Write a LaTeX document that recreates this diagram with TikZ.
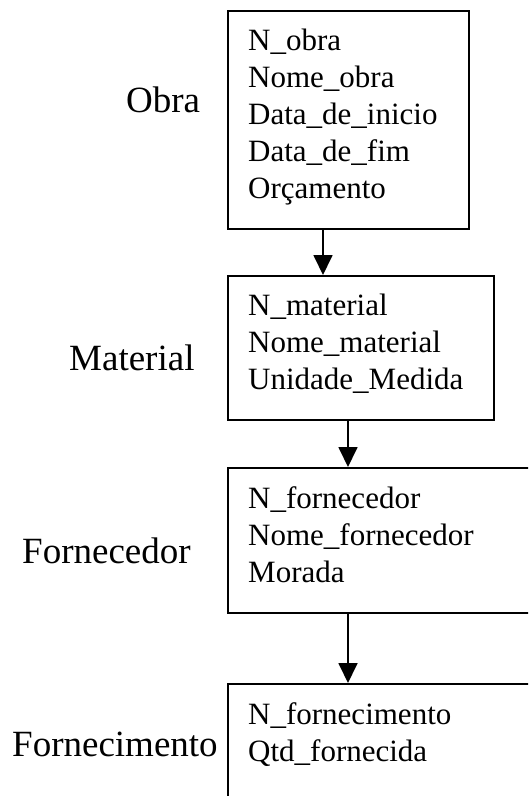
\documentclass[tikz,border=0pt]{standalone}
\usepackage{fontspec}
\setmainfont{Liberation Serif}
\usetikzlibrary{arrows.meta, positioning, calc}

\begin{document}
\begin{tikzpicture}[
    x=1pt, y=-1pt,
    entity/.style={draw, line width=1.8pt, anchor=north west, minimum width=#1, inner sep=0pt},
    attrs/.style={inner sep=0pt, align=left, font=\fontsize{31}{37}\selectfont},
    entname/.style={anchor=base west, inner sep=0pt, font=\fontsize{37}{44}\selectfont},
    arrow/.style={-{Triangle[width=19pt, length=20pt]}, line width=1.8pt}
]
\clip (0,0) rectangle (528,796);

% entity boxes
\node[entity=241pt, minimum height=218pt] (obra) at (227,10) {};
\node[entity=266pt, minimum height=144pt] (material) at (227,275) {};
\node[entity=330pt, minimum height=145pt] (fornecedor) at (227,467) {};
\node[entity=330pt, minimum height=140pt] (fornecimento) at (227,683) {};

% attributes
\node[attrs, below right=19pt and 21pt of obra.north west] (obraattr) {N\_obra\\Nome\_obra\\Data\_de\_inicio\\Data\_de\_fim\\Orçamento};
\node[attrs, below right=19pt and 21pt of material.north west] (materialattr) {N\_material\\Nome\_material\\Unidade\_Medida};
\node[attrs, below right=19pt and 21pt of fornecedor.north west] (fornecedorattr) {N\_fornecedor\\Nome\_fornecedor\\Morada};
\node[attrs, below right=19pt and 21pt of fornecimento.north west] (fornecimentoattr) {N\_fornecimento\\Qtd\_fornecida};

% entity names
\node[entname] (obralbl) at (126,112) {Obra};
\node[entname] (materiallbl) at (69,370) {Material};
\node[entname] (fornecedorlbl) at (22,563) {Fornecedor};
\node[entname] (fornecimentolbl) at (12,756) {Fornecimento};

\draw[arrow] ([xshift=96pt]obra.south west) -- ([xshift=96pt]material.north west);
\draw[arrow] ([xshift=121pt]material.south west) -- ([xshift=121pt]fornecedor.north west);
\draw[arrow] ([xshift=121pt]fornecedor.south west) -- ([xshift=121pt]fornecimento.north west);

\end{tikzpicture}
\end{document}
